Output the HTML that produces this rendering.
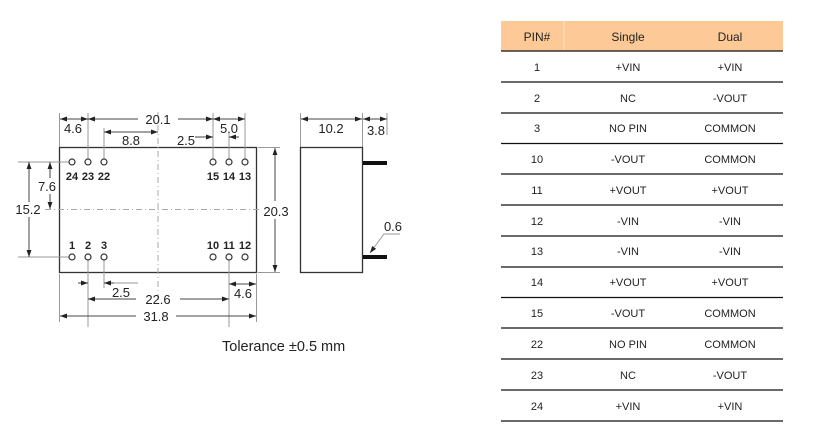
<!DOCTYPE html>
<html><head><meta charset="utf-8"><style>
html,body{margin:0;padding:0;background:#fff;width:822px;height:443px;overflow:hidden}
svg{display:block}
text{font-family:"Liberation Sans",Arial,sans-serif;fill:#222}
</style></head><body>
<svg width="822" height="443" viewBox="0 0 822 443" xmlns="http://www.w3.org/2000/svg">
<defs>
<marker id="a" viewBox="0 0 10 10" refX="10" refY="5" markerWidth="7" markerHeight="7" orient="auto-start-reverse" markerUnits="userSpaceOnUse"><path d="M0,1.5 L10,5 L0,8.5z" fill="#222"/></marker>
</defs>
<g stroke="#444" stroke-width="1" fill="none">
<rect x="59.5" y="147.5" width="197" height="125" stroke="#333" stroke-width="1.3"/>
<line x1="158" y1="112" x2="158" y2="305" stroke="#aaa" stroke-dasharray="6,3,1,3"/>
<line x1="45" y1="209.5" x2="262" y2="209.5" stroke="#aaa" stroke-dasharray="6,3,1,3"/>
<g stroke="#999">
<line x1="59.5" y1="113" x2="59.5" y2="147"/>
<line x1="88" y1="113" x2="88" y2="159"/>
<line x1="104" y1="128" x2="104" y2="159"/>
<line x1="213" y1="113" x2="213" y2="159"/>
<line x1="229" y1="133" x2="229" y2="159"/>
<line x1="245" y1="113" x2="245" y2="159"/>
<line x1="18" y1="162" x2="69" y2="162"/>
<line x1="18" y1="257" x2="69" y2="257"/>
<line x1="258" y1="147.5" x2="280" y2="147.5"/>
<line x1="258" y1="272.5" x2="280" y2="272.5"/>
<line x1="88" y1="260" x2="88" y2="327"/>
<line x1="104" y1="260" x2="104" y2="288"/>
<line x1="229" y1="260" x2="229" y2="327"/>
<line x1="256.5" y1="274" x2="256.5" y2="322"/>
<line x1="59.5" y1="274" x2="59.5" y2="322"/>
<line x1="300.5" y1="113" x2="300.5" y2="147"/>
<line x1="362.5" y1="113" x2="362.5" y2="147"/>
<line x1="387" y1="113" x2="387" y2="135"/>
<line x1="104" y1="283" x2="138" y2="283"/>
</g>
<line x1="60" y1="119" x2="88" y2="119" marker-start="url(#a)" marker-end="url(#a)"/>
<line x1="88" y1="119" x2="138" y2="119" marker-start="url(#a)"/>
<line x1="178" y1="119" x2="213" y2="119" marker-end="url(#a)"/>
<line x1="213" y1="119" x2="245" y2="119" marker-start="url(#a)" marker-end="url(#a)"/>
<line x1="104" y1="132" x2="158" y2="132" marker-start="url(#a)" marker-end="url(#a)"/>
<line x1="195" y1="137" x2="213" y2="137" marker-end="url(#a)"/>
<line x1="239" y1="137" x2="229" y2="137" marker-end="url(#a)"/>
<line x1="29" y1="162" x2="29" y2="202" marker-start="url(#a)"/>
<line x1="29" y1="217" x2="29" y2="257" marker-end="url(#a)"/>
<line x1="50" y1="162" x2="50" y2="178" marker-start="url(#a)"/>
<line x1="50" y1="194" x2="50" y2="209" marker-end="url(#a)"/>
<line x1="275" y1="148" x2="275" y2="201" marker-start="url(#a)"/>
<line x1="275" y1="219" x2="275" y2="272" marker-end="url(#a)"/>
<line x1="78" y1="283" x2="88" y2="283" marker-end="url(#a)"/>
<line x1="114" y1="283" x2="104" y2="283" marker-end="url(#a)"/>
<line x1="88" y1="299" x2="136" y2="299" marker-start="url(#a)"/>
<line x1="180" y1="299" x2="229" y2="299" marker-end="url(#a)"/>
<line x1="229" y1="284" x2="256" y2="284" marker-start="url(#a)" marker-end="url(#a)"/>
<line x1="60" y1="316" x2="136" y2="316" marker-start="url(#a)"/>
<line x1="176" y1="316" x2="256" y2="316" marker-end="url(#a)"/>
<g stroke="#333" stroke-width="1.2">
<circle cx="72" cy="162" r="3"/><circle cx="88" cy="162" r="3"/><circle cx="104" cy="162" r="3"/>
<circle cx="213" cy="162" r="3"/><circle cx="229" cy="162" r="3"/><circle cx="245" cy="162" r="3"/>
<circle cx="72" cy="257" r="3"/><circle cx="88" cy="257" r="3"/><circle cx="104" cy="257" r="3"/>
<circle cx="213" cy="257" r="3"/><circle cx="229" cy="257" r="3"/><circle cx="245" cy="257" r="3"/>
</g>
<rect x="300.5" y="147.5" width="62" height="125" stroke="#333" stroke-width="1.3"/>
<line x1="301" y1="119" x2="362" y2="119" marker-start="url(#a)" marker-end="url(#a)"/>
<line x1="363" y1="119" x2="387" y2="119" marker-start="url(#a)" marker-end="url(#a)"/>
<line x1="363" y1="163" x2="387" y2="163" stroke="#111" stroke-width="4"/>
<line x1="363" y1="257" x2="387" y2="257" stroke="#111" stroke-width="4"/>
<polyline points="400,234 384,234 370,253" stroke="#999" marker-end="url(#a)"/>
</g>
<g font-size="13" text-anchor="middle">
<text x="73" y="133">4.6</text>
<text x="158" y="124">20.1</text>
<text x="131" y="145">8.8</text>
<text x="186" y="145">2.5</text>
<text x="229" y="133">5.0</text>
<text x="47" y="191">7.6</text>
<text x="28" y="214">15.2</text>
<text x="276" y="216">20.3</text>
<text x="121" y="297">2.5</text>
<text x="158" y="304">22.6</text>
<text x="243" y="298">4.6</text>
<text x="156" y="321">31.8</text>
<text x="331" y="133">10.2</text>
<text x="376" y="135">3.8</text>
<text x="393" y="231">0.6</text>
</g>
<g font-size="11" font-weight="bold" text-anchor="middle">
<text x="72" y="180">24</text><text x="88" y="180">23</text><text x="104" y="180">22</text>
<text x="213" y="180">15</text><text x="229" y="180">14</text><text x="245" y="180">13</text>
<text x="72" y="249">1</text><text x="88" y="249">2</text><text x="104" y="249">3</text>
<text x="213" y="249">10</text><text x="229" y="249">11</text><text x="245" y="249">12</text>
</g>
<text x="222" y="351" font-size="14.5">Tolerance ±0.5 mm</text>
<rect x="501" y="21" width="282" height="30" fill="#fdca97"/>
<line x1="564" y1="21" x2="564" y2="51" stroke="#fde0c0"/>
<g font-size="12" text-anchor="middle" style="fill:#111">
<text x="537" y="41" fill="#111">PIN#</text><text x="628" y="41" fill="#111">Single</text><text x="730" y="41" fill="#111">Dual</text>
</g>
<g stroke="#111" stroke-width="1.3">
<line x1="501" y1="51" x2="783" y2="51"/><line x1="501" y1="82" x2="783" y2="82"/>
<line x1="501" y1="113" x2="783" y2="113"/><line x1="501" y1="143.5" x2="783" y2="143.5"/>
<line x1="501" y1="174" x2="783" y2="174"/><line x1="501" y1="205" x2="783" y2="205"/>
<line x1="501" y1="236" x2="783" y2="236"/><line x1="501" y1="267" x2="783" y2="267"/>
<line x1="501" y1="297.5" x2="783" y2="297.5"/><line x1="501" y1="328" x2="783" y2="328"/>
<line x1="501" y1="359" x2="783" y2="359"/><line x1="501" y1="390" x2="783" y2="390"/>
<line x1="501" y1="421" x2="783" y2="421"/>
</g>
<g font-size="11" text-anchor="middle" style="fill:#111">
<text x="537" y="71">1</text><text x="628" y="71">+VIN</text><text x="730" y="71">+VIN</text>
<text x="537" y="102">2</text><text x="628" y="102">NC</text><text x="730" y="102">-VOUT</text>
<text x="537" y="132">3</text><text x="628" y="132">NO PIN</text><text x="730" y="132">COMMON</text>
<text x="537" y="163">10</text><text x="628" y="163">-VOUT</text><text x="730" y="163">COMMON</text>
<text x="537" y="194">11</text><text x="628" y="194">+VOUT</text><text x="730" y="194">+VOUT</text>
<text x="537" y="225">12</text><text x="628" y="225">-VIN</text><text x="730" y="225">-VIN</text>
<text x="537" y="255">13</text><text x="628" y="255">-VIN</text><text x="730" y="255">-VIN</text>
<text x="537" y="286">14</text><text x="628" y="286">+VOUT</text><text x="730" y="286">+VOUT</text>
<text x="537" y="317">15</text><text x="628" y="317">-VOUT</text><text x="730" y="317">COMMON</text>
<text x="537" y="348">22</text><text x="628" y="348">NO PIN</text><text x="730" y="348">COMMON</text>
<text x="537" y="379">23</text><text x="628" y="379">NC</text><text x="730" y="379">-VOUT</text>
<text x="537" y="410">24</text><text x="628" y="410">+VIN</text><text x="730" y="410">+VIN</text>
</g>
</svg>
</body></html>
